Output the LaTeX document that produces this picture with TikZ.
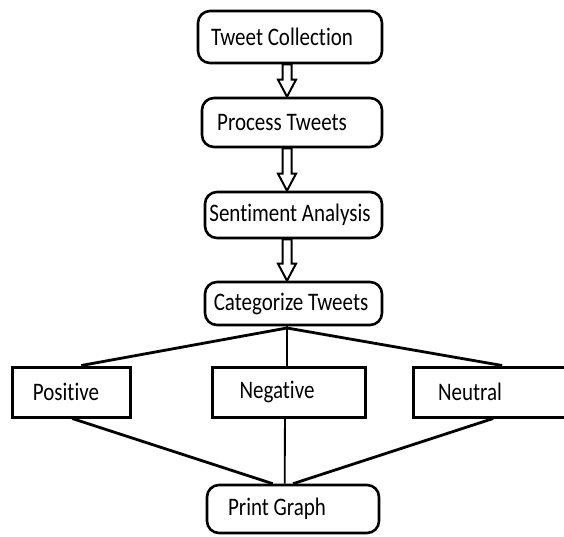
\documentclass[tikz,border=0pt]{standalone}
\usepackage{fontspec}
\usepackage{graphicx}
\setmainfont{Carlito}[Ligatures={NoCommon,NoContextual}]
\usetikzlibrary{calc}
\newcommand\tx[1]{\scalebox{1}[1.2]{#1}}
\newcommand\blockarr[2]{%
  \draw[blockarrow] let \p1=(#1.south), \p2=(#2.north) in
    (282.5pt,\y1) -- (291.5pt,\y1) -- (291.5pt,\y2+17pt) -- (296pt,\y2+17pt)
    -- (287pt,\y2) -- (278pt,\y2+17pt) -- (282.5pt,\y2+17pt) -- cycle;}
\tikzset{
  rbox/.style={draw, line width=2.6pt, rounded corners=12pt, inner sep=0pt,
    font=\fontsize{21}{25}\selectfont},
  sbox/.style={draw, line width=3pt, inner sep=0pt,
    font=\fontsize{21}{25}\selectfont},
  link/.style={line width=2.8pt},
  thinlink/.style={line width=1.8pt},
  blockarrow/.style={line width=2pt, fill=white, line join=miter}
}
\begin{document}
\begin{tikzpicture}[x=1pt,y=-1pt]
\clip (0,0) rectangle (564,536);
\fill[white] (0,0) rectangle (564,536);

\node[rbox, minimum width=184pt, minimum height=52pt] (tc) at (290,37) {\tx{Tweet Collection}\hspace*{16pt}};
\node[rbox, minimum width=180pt, minimum height=49pt] (pt) at (292,122.5) {\tx{Process Tweets}\hspace*{20pt}};
\node[rbox, minimum width=177pt, minimum height=46pt] (sa) at (293.5,215) {\tx{Sentiment Analysis}\hspace*{7pt}};
\node[rbox, minimum width=177pt, minimum height=43pt] (ct) at (293.5,303.5) {\tx{Categorize Tweets}\hspace*{5pt}};

\node[sbox, minimum width=118pt, minimum height=50pt] (pos) at (71,392) {\tx{Positive}\hspace*{10pt}};
\node[sbox, minimum width=153pt, minimum height=50pt] (neg) at (288.5,392) {\tx{Negative}\hspace*{23pt}\raisebox{6pt}{}};
\node[sbox, minimum width=167pt, minimum height=50pt] (neu) at (496.5,392) {\tx{Neutral}\hspace*{53pt}};

\node[rbox, minimum width=172pt, minimum height=48pt] (pg) at (293,509) {\tx{Print Graph}\hspace*{32pt}};

\blockarr{tc}{pt}
\blockarr{pt}{sa}
\blockarr{sa}{ct}

\coordinate (j) at (287,328);
\draw[link] (ct.south -| j) -- (j);
\draw[link] (j) -- ($(pos.north west)!0.585!(pos.north east)$);
\draw[link] (j) -- ($(neu.north west)!0.533!(neu.north east)$);
\draw[link] (j) -- (j |- neg.north);

\draw[link] ($(pos.south west)!0.51!(pos.south east)$) -- ($(pg.north west)!0.384!(pg.north east)$);
\draw[thinlink] ($(neg.south west)!0.477!(neg.south east)$) -- ($(pg.north west)!0.453!(pg.north east)$);
\draw[link] ($(neu.south west)!0.48!(neu.south east)$) -- ($(pg.north west)!0.5!(pg.north east)$);
\end{tikzpicture}
\end{document}
